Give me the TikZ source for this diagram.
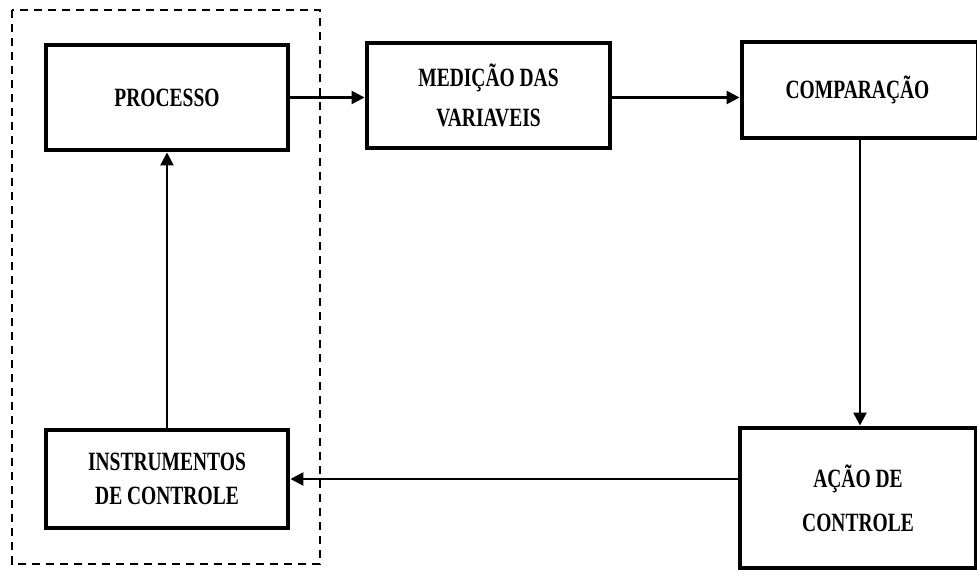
\documentclass[tikz,border=0pt]{standalone}
\usepackage{fontspec}
\newfontfamily\diafont{Liberation Serif}[FakeStretch=0.74]
\usetikzlibrary{arrows.meta}
\begin{document}
\begin{tikzpicture}[x=0.02cm,y=-0.02cm,
  blockbox/.style={draw,line width=2.8pt,rectangle,align=center,inner sep=0pt,
    font=\diafont\bfseries\fontsize{15}{22.7}\selectfont},
  conn/.style={line width=1.4pt,-{Triangle[length=2.6mm,width=2.6mm]}},
  groupbox/.style={line width=1.4pt,dash pattern=on 0.17cm off 0.11cm}]
\useasboundingbox (0,0) rectangle (977,570);
\draw[groupbox] (12,10) rectangle (320,564);
\node[blockbox,minimum width=4.84cm,minimum height=2.1cm] (p) at (167,97.5) {PROCESSO};
\node[blockbox,minimum width=4.86cm,minimum height=2.1cm] (m) at (488.5,95.5) {MEDIÇÃO DAS\\VARIAVEIS};
\node[blockbox,minimum width=4.72cm,minimum height=1.92cm] (c) at (860,90) {\hspace*{-0.1cm}COMPARAÇÃO};
\node[blockbox,minimum width=4.84cm,minimum height=1.96cm,
  font=\diafont\bfseries\fontsize{15}{19.8}\selectfont] (i) at (167,479) {INSTRUMENTOS\\DE CONTROLE};
\node[blockbox,minimum width=4.72cm,minimum height=2.8cm,
  font=\diafont\bfseries\fontsize{15}{25}\selectfont] (a) at (858,498) {AÇÃO DE\\CONTROLE};
\draw[conn] (p.east) -- (p.east -| m.west);
\draw[conn] (p.east -| m.east) -- (p.east -| c.west);
\draw[conn] (c.south) -- (c.south |- a.north);
\draw[conn] (a.west |- i.east) -- (i.east);
\draw[conn] (i.north) -- (p.south);
\end{tikzpicture}
\end{document}
